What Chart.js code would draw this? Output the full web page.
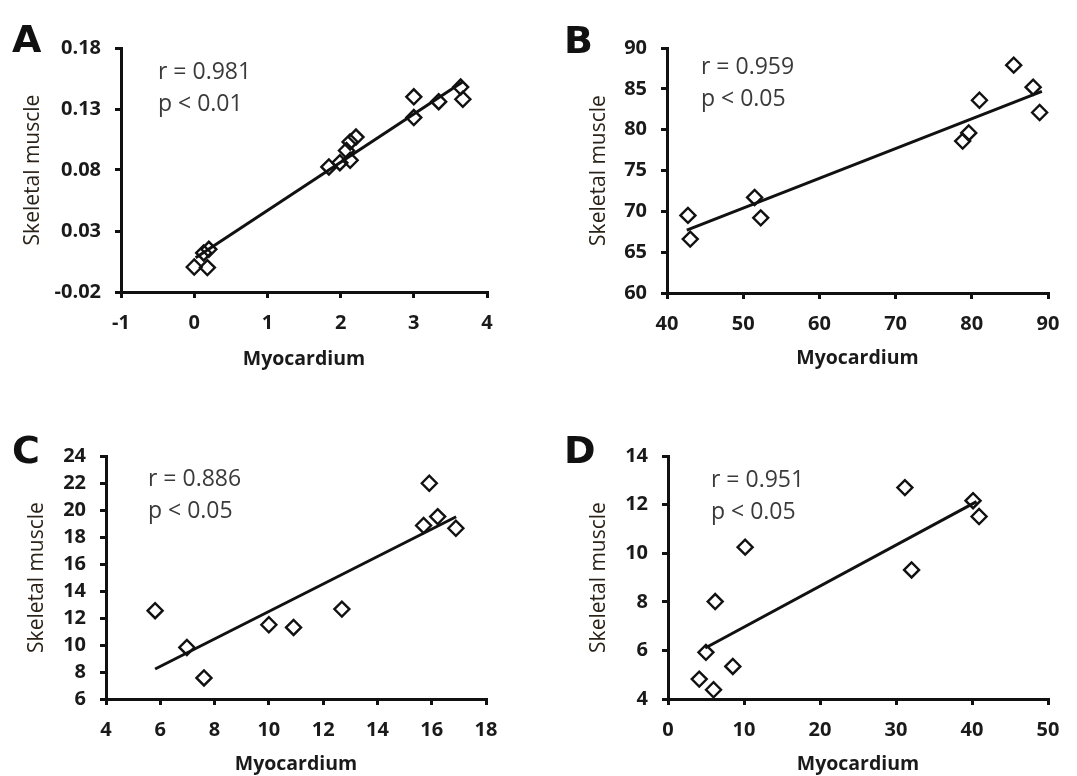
<!DOCTYPE html>
<html><head><meta charset="utf-8">
<script src="https://cdn.jsdelivr.net/npm/chart.js@4.4.1/dist/chart.umd.min.js"></script>
<style>
html,body{margin:0;padding:0;background:#fff;width:1077px;height:776px;overflow:hidden}
.panel{position:absolute}
.panel canvas{position:absolute;left:0;top:0}
.letter{position:absolute;font-family:'DejaVu Sans';font-weight:bold;font-size:38px;line-height:1;color:#111}
.stat{position:absolute;font-family:'Open Sans';font-size:23px;line-height:32px;color:#3a3a3a;white-space:pre}
</style></head><body>

<div class="panel" style="left:0;top:0;width:540px;height:380px"><canvas id="cA" width="540" height="380"></canvas></div>
<div class="panel" style="left:540px;top:0;width:537px;height:380px"><canvas id="cB" width="537" height="380"></canvas></div>
<div class="panel" style="left:0;top:380px;width:540px;height:396px"><canvas id="cC" width="540" height="396"></canvas></div>
<div class="panel" style="left:540px;top:380px;width:537px;height:396px"><canvas id="cD" width="537" height="396"></canvas></div>

<div class="letter" style="left:12px;top:20px">A</div>
<div class="letter" style="left:564px;top:21px">B</div>
<div class="letter" style="left:12px;top:431px">C</div>
<div class="letter" style="left:564px;top:431px">D</div>

<div class="stat" style="left:158px;top:54px">r = 0.981
p &lt; 0.01</div>
<div class="stat" style="left:701px;top:49px">r = 0.959
p &lt; 0.05</div>
<div class="stat" style="left:148px;top:461px">r = 0.886
p &lt; 0.05</div>
<div class="stat" style="left:711px;top:462px">r = 0.951
p &lt; 0.05</div>

<script>
// ---- Panel A ----
const aMyo  = [0.00, 0.18, 0.13, 0.20, 1.84, 1.99, 2.08, 2.13, 2.21, 2.13, 3.00, 3.00, 3.34, 3.64, 3.67];
const aSkel = [0.0005, 0.000, 0.012, 0.015, 0.0825, 0.086, 0.096, 0.103, 0.107, 0.088, 0.140, 0.123, 0.136, 0.148, 0.138];
const aFitX = [0.02, 3.66];
const aFitY = [0.008, 0.152];
const aXTicks = [-1, 0, 1, 2, 3, 4];
const aYTicks = [-0.02, 0.03, 0.08, 0.13, 0.18];
const aYLabels = ['-0.02', '0.03', '0.08', '0.13', '0.18'];

// ---- Panel B ----
const bMyo  = [42.75, 43.05, 51.5, 52.3, 78.8, 79.6, 81.0, 85.5, 88.05, 88.9];
const bSkel = [69.5, 66.6, 71.7, 69.2, 78.6, 79.6, 83.6, 87.9, 85.2, 82.1];
const bFitX = [42.6, 89.2];
const bFitY = [67.7, 84.7];
const bXTicks = [40, 50, 60, 70, 80, 90];
const bYTicks = [60, 65, 70, 75, 80, 85, 90];

// ---- Panel C ----
const cMyo  = [5.81, 6.98, 7.61, 10.0, 10.91, 12.69, 15.7, 15.91, 16.22, 16.89];
const cSkel = [12.54, 9.82, 7.56, 11.5, 11.3, 12.66, 18.85, 21.98, 19.51, 18.65];
const cFitX = [5.81, 16.9];
const cFitY = [8.22, 19.5];
const cXTicks = [4, 6, 8, 10, 12, 14, 16, 18];
const cYTicks = [6, 8, 10, 12, 14, 16, 18, 20, 22, 24];

// ---- Panel D ----
const dMyo  = [4.11, 5.99, 4.99, 8.53, 6.21, 10.15, 31.17, 32.05, 40.14, 40.93];
const dSkel = [4.82, 4.38, 5.92, 5.34, 8.01, 10.25, 12.70, 9.31, 12.16, 11.51];
const dFitX = [4.9, 40.6];
const dFitY = [6.1, 12.12];
const dXTicks = [0, 10, 20, 30, 40, 50];
const dYTicks = [4, 6, 8, 10, 12, 14];

const xTitle = 'Myocardium';
const yTitle = 'Skeletal muscle';

const INK = '#111';
const TXT = '#1a1a1a';
const tickFont = {family: "'Open Sans'", weight: 'bold', size: 20};

function pts(xs, ys) { return xs.map((v, i) => ({x: v, y: ys[i]})); }

function makeChart(id, c) {
  new Chart(document.getElementById(id), {
    type: 'scatter',
    data: {datasets: [
      {data: pts(c.x, c.y), pointStyle: 'rectRot', pointRadius: 7.5, pointBorderWidth: 2.4,
       pointBorderColor: INK, pointBackgroundColor: 'rgba(0,0,0,0)', showLine: false, clip: false},
      {data: pts(c.fx, c.fy), showLine: true, borderColor: INK, borderWidth: 3, pointRadius: 0, clip: false}
    ]},
    options: {
      responsive: false, animation: false, events: [],
      plugins: {legend: {display: false}, tooltip: {enabled: false}},
      layout: {padding: {top: c.top, right: c.right, left: 0, bottom: 0}},
      scales: {
        x: {
          type: 'linear', min: c.xt[0], max: c.xt[c.xt.length - 1],
          afterFit: s => { s.height = c.xh; },
          afterBuildTicks: s => { s.ticks = c.xt.map(v => ({value: v})); },
          ticks: {autoSkip: false, maxRotation: 0, font: tickFont, color: TXT, padding: 13,
                  callback: (v, i) => String(c.xt[i])},
          grid: {drawOnChartArea: false, drawTicks: true, tickLength: 6, color: INK, lineWidth: 3},
          border: {color: INK, width: 3},
          title: {display: true, text: xTitle, color: TXT,
                  font: {family: "'Open Sans'", weight: 'bold', size: 19.5}, padding: {top: 0, bottom: c.xtp}}
        },
        y: {
          type: 'linear', min: c.yt[0], max: c.yt[c.yt.length - 1],
          afterFit: s => { s.width = c.yw; },
          afterBuildTicks: s => { s.ticks = c.yt.map(v => ({value: v})); },
          ticks: {autoSkip: false, font: tickFont, color: TXT, padding: 14,
                  callback: (v, i) => c.yl ? c.yl[i] : String(c.yt[i])},
          grid: {drawOnChartArea: false, drawTicks: true, tickLength: 6, color: INK, lineWidth: 3},
          border: {color: INK, width: 3},
          title: {display: true, text: yTitle, color: '#2a2218',
                  font: {family: "'Open Sans'", weight: '500', size: 21}, padding: {top: c.ytp, bottom: 0}}
        }
      }
    }
  });
}

makeChart('cA', {x: aMyo, y: aSkel, fx: aFitX, fy: aFitY, xt: aXTicks, yt: aYTicks, yl: aYLabels,
  top: 48, right: 53, yw: 121, xh: 88, xtp: 9, ytp: 20});
makeChart('cB', {x: bMyo, y: bSkel, fx: bFitX, fy: bFitY, xt: bXTicks, yt: bYTicks,
  top: 48, right: 29, yw: 127, xh: 87, xtp: 10, ytp: 46});
makeChart('cC', {x: cMyo, y: cSkel, fx: cFitX, fy: cFitY, xt: cXTicks, yt: cYTicks,
  top: 76, right: 54, yw: 106, xh: 77, xtp: 0, ytp: 24});
makeChart('cD', {x: dMyo, y: dSkel, fx: dFitX, fy: dFitY, xt: dXTicks, yt: dYTicks,
  top: 76, right: 29, yw: 128, xh: 77, xtp: 0, ytp: 46});
</script>
</body></html>
